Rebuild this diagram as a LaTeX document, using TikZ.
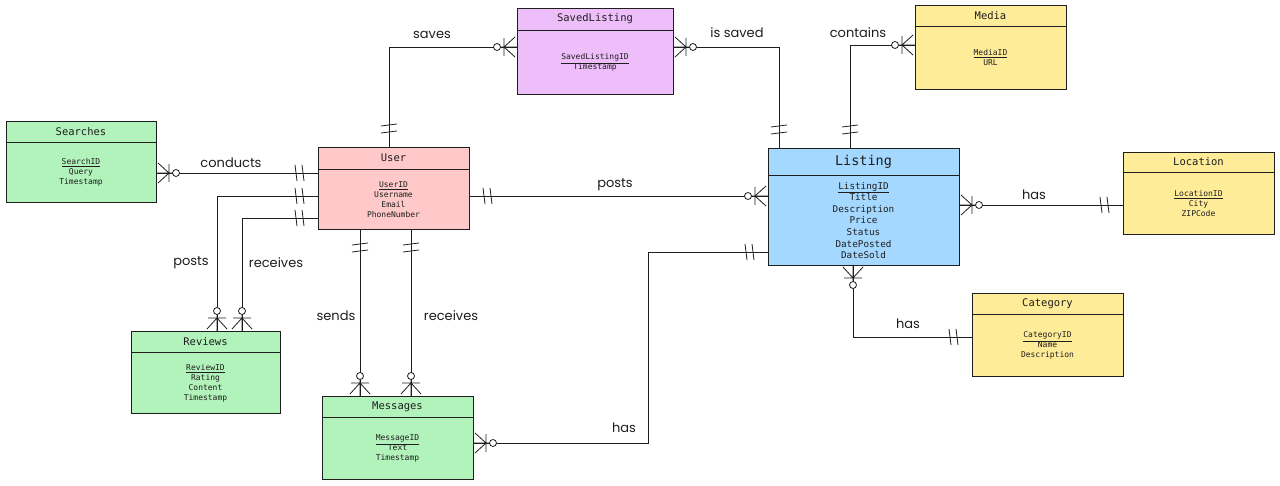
\documentclass[tikz,border=0pt]{standalone}
\usepackage{fontspec}
\setmainfont{DejaVu Sans}
\newfontfamily\emono{DejaVu Sans Mono}
\newfontfamily\hand{Poppins}
\usetikzlibrary{calc}
\definecolor{ink}{HTML}{1E1E1E}
\definecolor{gfill}{HTML}{B2F2BB}
\definecolor{rfill}{HTML}{FFC9C9}
\definecolor{pfill}{HTML}{EEBEFA}
\definecolor{bfill}{HTML}{A5D8FF}
\definecolor{yfill}{HTML}{FFEC99}
\tikzset{
  ebox/.style={draw=ink, line width=0.9pt, inner sep=0pt, outer sep=0pt},
  conn/.style={draw=ink, line width=0.8pt},
  etitle/.style={font=\emono\fontsize{10.5}{12}\selectfont, text=ink, inner sep=0pt},
  eattr/.style={font=\emono\fontsize{8}{10}\selectfont, text=ink, align=center, inner sep=0pt},
  rel/.style={font=\hand\fontsize{13}{15}\selectfont, text=ink, inner sep=1pt},
  zm/.pic={
    \draw[conn] (2,-10) -- (13,0) -- (2,10) (13,-9) -- (13,9) (0,0) -- (16,0);
    \draw[conn, fill=white] (20,0) circle[radius=3.5pt];
  },
  one/.pic={
    \draw[conn] (14,-8) -- (16,8) (21,-8) -- (23,8);
  }
}
\newcommand\entity[9]{%
  \node[ebox, #7, minimum width=#4pt, minimum height=#5pt, anchor=north west] (#1) at (#2,#3) {};
  \coordinate (#1-d) at ([yshift=-#6pt]#1.north);
  \draw[ebox] (#1.west |- #1-d) -- (#1.east |- #1-d);
  \node[etitle] (#1-t) at ($(#1.north)!.5!(#1-d)$) {#8};
  \node[eattr] (#1-a) at ($(#1-d)!.5!(#1.south)+(0,0.5)$) {#9};
}
\begin{document}
\begin{tikzpicture}[x=1pt, y=-1pt]
\useasboundingbox[fill=white] (0,0) rectangle (1280,486);

% entities
\entity{searches}{6}{121}{150}{81}{21}{fill=gfill}{Searches}{\underline{SearchID}\\Query\\Timestamp}
\entity{user}{318}{147}{151}{82}{22}{fill=rfill}{User}{\underline{UserID}\\Username\\Email\\PhoneNumber}
\entity{savedl}{517}{8}{156}{86}{22}{fill=pfill}{SavedListing}{\underline{SavedListingID}\\Timestamp}
\entity{media}{915}{5}{151}{84}{21}{fill=yfill}{Media}{\underline{MediaID}\\URL}
\begin{scope}[etitle/.style={font=\emono\fontsize{13.5}{15}\selectfont, text=ink, inner sep=0pt},
  eattr/.style={font=\emono\fontsize{9.3}{11.6}\selectfont, text=ink, align=center, inner sep=0pt}]
\entity{listing}{768}{148}{191}{117}{27}{fill=bfill}{Listing}{\underline{ListingID}\\Title\\Description\\Price\\Status\\DatePosted\\DateSold}
\end{scope}
\entity{location}{1123}{152}{151}{82}{20}{fill=yfill}{Location}{\underline{LocationID}\\City\\ZIPCode}
\entity{category}{972}{293}{151}{83}{21}{fill=yfill}{Category}{\underline{CategoryID}\\Name\\Description}
\entity{reviews}{131}{331}{149}{82}{21}{fill=gfill}{Reviews}{\underline{ReviewID}\\Rating\\Content\\Timestamp}
\entity{messages}{322}{396}{151}{83}{21}{fill=gfill}{Messages}{\underline{MessageID}\\Text\\Timestamp}

% guide coordinates
\coordinate (c1) at (237,173);
\coordinate (b2) at (217,196);
\coordinate (b3) at (242,218);
\coordinate (v4) at (360,300);
\coordinate (v5) at (411,300);
\coordinate (b6) at (389,47);
\coordinate (b7) at (779,47);
\coordinate (b8) at (850,45);
\coordinate (c9) at (600,196);
\coordinate (c10) at (1040,205);
\coordinate (b11) at (853,337);
\coordinate (b12a) at (648,443);
\coordinate (b12b) at (648,252);

% connectors
\draw[conn] (searches.east |- c1) -- (user.west |- c1);
\draw[conn] (user.west |- b2) -- (b2) -- (reviews.north -| b2);
\draw[conn] (user.west |- b3) -- (b3) -- (reviews.north -| b3);
\draw[conn] (user.south -| v4) -- (messages.north -| v4);
\draw[conn] (user.south -| v5) -- (messages.north -| v5);
\draw[conn] (user.north -| b6) -- (b6) -- (savedl.west |- b6);
\draw[conn] (savedl.east |- b7) -- (b7) -- (listing.north -| b7);
\draw[conn] (listing.north -| b8) -- (b8) -- (media.west |- b8);
\draw[conn] (user.east |- c9) -- (listing.west |- c9);
\draw[conn] (listing.east |- c10) -- (location.west |- c10);
\draw[conn] (listing.south -| b11) -- (b11) -- (category.west |- b11);
\draw[conn] (messages.east |- b12a) -- (b12a) -- (b12b) -- (listing.west |- b12b);

% end markers
\pic[rotate=0] at (searches.east |- c1) {zm};
\pic[rotate=180] at (user.west |- c1) {one};
\pic[rotate=180] at (user.west |- b2) {one};
\pic[rotate=90] at (reviews.north -| b2) {zm};
\pic[rotate=180] at (user.west |- b3) {one};
\pic[rotate=90] at (reviews.north -| b3) {zm};
\pic[rotate=270] at (user.south -| v4) {one};
\pic[rotate=90] at (messages.north -| v4) {zm};
\pic[rotate=270] at (user.south -| v5) {one};
\pic[rotate=90] at (messages.north -| v5) {zm};
\pic[rotate=90] at (user.north -| b6) {one};
\pic[rotate=180] at (savedl.west |- b6) {zm};
\pic[rotate=0] at (savedl.east |- b7) {zm};
\pic[rotate=90] at (listing.north -| b7) {one};
\pic[rotate=90] at (listing.north -| b8) {one};
\pic[rotate=180] at (media.west |- b8) {zm};
\pic[rotate=0] at (user.east |- c9) {one};
\pic[rotate=180] at (listing.west |- c9) {zm};
\pic[rotate=0] at (listing.east |- c10) {zm};
\pic[rotate=180] at (location.west |- c10) {one};
\pic[rotate=270] at (listing.south -| b11) {zm};
\pic[rotate=180] at (category.west |- b11) {one};
\pic[rotate=0] at (messages.east |- b12a) {zm};
\pic[rotate=180] at (listing.west |- b12b) {one};

% relationship labels
\node[rel] (l1) at (231,163) {conducts};
\node[rel] (l2) at (191,263) {posts};
\node[rel] (l3) at (276,263) {receives};
\node[rel] (l4) at (336,316) {sends};
\node[rel] (l5) at (451,316) {receives};
\node[rel] (l6) at (432,35) {saves};
\node[rel] (l7) at (737,33) {is saved};
\node[rel] (l8) at (858,33) {contains};
\node[rel] (l9) at (615,185) {posts};
\node[rel] (l10) at (1034,195) {has};
\node[rel] (l11) at (908,324) {has};
\node[rel] (l12) at (624,428) {has};
\end{tikzpicture}
\end{document}
